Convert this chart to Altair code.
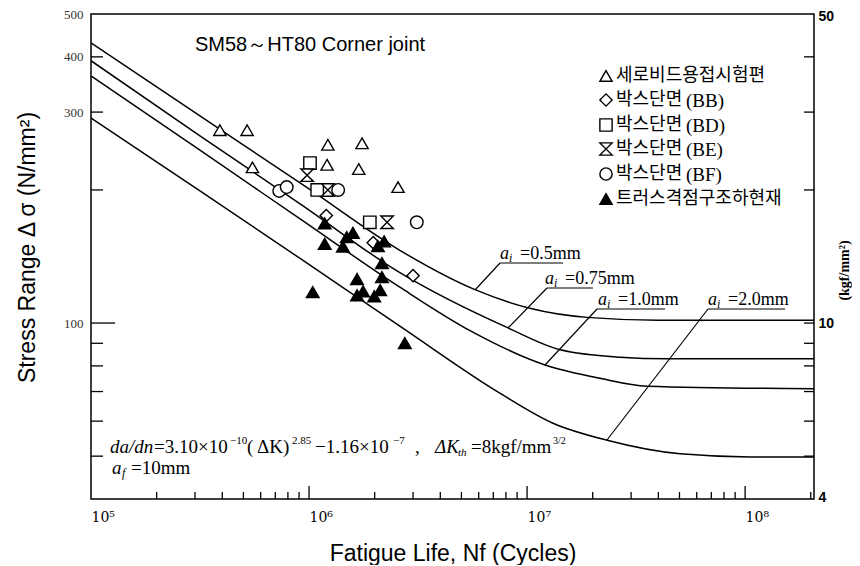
import altair as alt
import pandas as pd

W, H = 723, 485

# ---------------- S-N curves (fatigue life N [cycles], stress range S [N/mm^2]) -------------
curve_names = ["0.5mm", "0.75mm", "1.0mm", "2.0mm"]
curve_05_N = [1e5, 3.16e5, 1.0e6, 2.61e6, 5.77e6, 1.03e7, 1.88e7, 4.0e7, 2.1e8]
curve_05_S = [430, 294, 201, 146, 119, 108, 103, 101.5, 101.5]
curve_075_N = [1e5, 3.16e5, 9.1e5, 2.61e6, 8.18e6, 1.42e7, 2.67e7, 4.39e7, 2.1e8]
curve_075_S = [392, 265, 186, 130, 97.5, 87, 83.7, 83, 83]
curve_10_N = [1e5, 3.16e5, 9.1e5, 2.61e6, 5.5e6, 1.21e7, 2.16e7, 3.55e7, 2.1e8]
curve_10_S = [362, 246, 172, 120.5, 96, 80.4, 75, 72, 71]
curve_20_N = [1e5, 3.16e5, 9.1e5, 2.61e6, 7.5e6, 1.3e7, 2.33e7, 5.04e7, 1.05e8, 2.1e8]
curve_20_S = [291, 199, 140, 98.4, 69.4, 59.5, 54.3, 50.6, 49.8, 49.8]

# ---------------- test results ----------------
series = ["세로비드용접시험편", "박스단면(BB)", "박스단면(BD)", "박스단면(BE)",
          "박스단면(BF)", "트러스격점구조하현재"]
bead_N = [3.9e5, 5.2e5, 5.5e5, 1.22e6, 1.75e6, 1.21e6, 1.69e6, 2.56e6]
bead_S = [273, 273, 225, 253, 255, 228, 223, 203]
bb_N = [1.2e6, 1.97e6, 3.0e6]
bb_S = [175, 152, 128]
bd_N = [1.01e6, 1.09e6, 1.9e6]
bd_S = [230, 200, 169]
be_N = [9.8e5, 1.22e6, 2.28e6]
be_S = [216, 200, 169]
bf_N = [7.3e5, 7.9e5, 1.36e6, 3.12e6]
bf_S = [199, 203, 200, 169]
truss_N = [1.18e6, 1.18e6, 1.43e6, 1.49e6, 1.59e6, 2.07e6, 2.21e6, 2.16e6,
           1.66e6, 2.16e6, 1.04e6, 1.66e6, 1.77e6, 1.99e6, 2.12e6, 2.75e6]
truss_S = [168, 151, 149, 156.5, 160, 149.3, 153, 136.7,
           125.8, 127, 117.5, 115.6, 118, 115, 118.7, 90.1]

# ---------------- axis tick values ----------------
x_label_values = [1e5, 1e6, 1e7, 1e8]
x_minor_ticks = [2e5, 3e5, 4e5, 5e5, 6e5, 7e5, 8e5, 9e5,
                 2e6, 3e6, 4e6, 5e6, 6e6, 7e6, 8e6, 9e6,
                 2e7, 3e7, 4e7, 5e7, 6e7, 7e7, 8e7, 9e7, 2e8]
x_major_ticks = [1e6, 1e7, 1e8]
y_label_values = [500, 400, 300, 100]
y_minor_ticks = [400, 300, 200, 90, 80, 70, 60, 50]
y_major_ticks = [100]
kgf_label_values = [50, 10, 4]
kgf_ticks = [40, 30, 20, 10, 9, 8, 7, 6, 5]

# ---------------- marker styles ----------------
HOURGLASS = "M-1,-1H1L-1,1H1Z"
marker_shapes = ["triangle-up", "diamond", "square", HOURGLASS, "circle", "triangle-up"]
marker_fills = ["white", "white", "white", "white", "white", "black"]
marker_sizes = [150, 160, 170, 150, 300, 75]

# ---------------- tables ----------------
curve_df = pd.concat([
    pd.DataFrame({"curve": name, "N": n, "S": s})
    for name, n, s in zip(curve_names,
                          [curve_05_N, curve_075_N, curve_10_N, curve_20_N],
                          [curve_05_S, curve_075_S, curve_10_S, curve_20_S])
], ignore_index=True)

pt_df = pd.concat([
    pd.DataFrame({"type": name, "N": n, "S": s})
    for name, n, s in zip(series,
                          [bead_N, bb_N, bd_N, be_N, bf_N, truss_N],
                          [bead_S, bb_S, bd_S, be_S, bf_S, truss_S])
], ignore_index=True)

xscale = alt.Scale(type="log", domain=[1e5, 2.07e8], nice=False)
yscale = alt.Scale(type="log", domain=[40, 500], nice=False)
kscale = alt.Scale(type="log", domain=[4, 50], nice=False)

SERIF = "Liberation Serif"
SANS = "Liberation Sans"
KR = "Noto Sans CJK KR"

x_label_expr = ("datum.value == 100000 ? '10⁵' : datum.value == 1000000 ? '10⁶' : "
                "datum.value == 10000000 ? '10⁷' : '10⁸'")

curves = alt.Chart(curve_df).mark_line(
    color="black", strokeWidth=1.5, interpolate="monotone", clip=True
).encode(
    x=alt.X("N:Q", scale=xscale, axis=alt.Axis(
        values=x_label_values, labelExpr=x_label_expr, ticks=False, domain=False, grid=False,
        labelAlign="left", labelBaseline="top", labelPadding=11, labelFlush=False,
        labelOverlap=False, labelFont="DejaVu Serif", labelFontSize=14, labelColor="black",
        title="Fatigue  Life,  Nf  (Cycles)", titleFont=SANS, titleFontSize=23,
        titleFontWeight="normal", titleColor="black", titleY=61, titleBaseline="alphabetic")),
    y=alt.Y("S:Q", scale=yscale, axis=alt.Axis(
        values=y_label_values, ticks=False, domain=False, grid=False, labelOverlap=False,
        labelFont=SERIF, labelFontSize=13, labelColor="#333333", labelPadding=8,
        title="Stress  Range  Δ σ  (N/mm²)", titleFont=SANS, titleFontSize=23,
        titleFontWeight="normal", titleColor="black", titleAngle=270,
        titleX=-52, titleY=233, titleBaseline="bottom")),
    detail="curve:N",
)

points = alt.Chart(pt_df).mark_point(
    filled=True, stroke="black", strokeWidth=1.4, opacity=1
).encode(
    x=alt.X("N:Q", scale=xscale),
    y=alt.Y("S:Q", scale=yscale),
    shape=alt.Shape("type:N", scale=alt.Scale(domain=series, range=marker_shapes), legend=None),
    fill=alt.Fill("type:N", scale=alt.Scale(domain=series, range=marker_fills), legend=None),
    size=alt.Size("type:O", scale=alt.Scale(domain=series, range=marker_sizes), legend=None),
)

# inward ticks
def ytick_layer(vals, length):
    return alt.Chart(pd.DataFrame({"S": vals})).mark_rule(color="black", strokeWidth=1.3).encode(
        y=alt.Y("S:Q", scale=yscale), x=alt.value(0), x2=alt.value(length))

def xtick_layer(vals, length):
    return alt.Chart(pd.DataFrame({"N": vals})).mark_rule(color="black", strokeWidth=1.3).encode(
        x=alt.X("N:Q", scale=xscale), y=alt.value(H), y2=alt.value(H - length))

one = pd.DataFrame({"k": [0]})

def txt(s, x, y, size=15, font=SERIF, style="normal", weight="normal", baseline="alphabetic"):
    return alt.Chart(one).mark_text(
        text=s, font=font, fontSize=size, fontStyle=style, fontWeight=weight,
        align="left", baseline=baseline, color="black"
    ).encode(x=alt.value(x), y=alt.value(y))

def seg(x1, y1, x2, y2):
    return alt.Chart(one).mark_rule(color="black", strokeWidth=1.2).encode(
        x=alt.value(x1), y=alt.value(y1), x2=alt.value(x2), y2=alt.value(y2))

def curve_label(value_text, x, y):
    return [txt("a", x, y, size=18, style="italic"),
            txt("i", x + 9, y + 3, size=12, style="italic"),
            txt(value_text, x + 20, y, size=18)]

FS = 19
annotations = [
    txt("SM58～HT80  Corner  joint", 104, 37, size=20, font=SANS),
    # crack growth law
    txt("da/dn", 19, 439, size=FS, style="italic"),
    txt("=3.10×10", 63, 439, size=FS),
    txt("−10", 139, 430, size=11),
    txt("( ΔK)", 156, 439, size=FS),
    txt("2.85", 201, 430, size=11),
    txt("−1.16×10", 224, 439, size=FS),
    txt("−7", 302, 430, size=11),
    txt(",", 324, 439, size=FS),
    txt("ΔK", 344, 439, size=FS, style="italic"),
    txt("th", 367, 442, size=11, style="italic"),
    txt("=8kgf/mm", 380, 439, size=FS),
    txt("3/2", 462, 430, size=10),
    txt("a", 21, 460, size=FS, style="italic"),
    txt("f", 31, 463, size=12, style="italic"),
    txt("=10mm", 40, 460, size=FS),
    # curve leaders
    seg(384, 276, 409, 249), seg(409, 249, 472, 249),
    seg(417, 314, 456, 274), seg(456, 274, 502, 274),
    seg(454, 351, 506, 295), seg(506, 295, 574, 295),
    seg(516, 426, 617, 295), seg(617, 295, 694, 295),
]
annotations += curve_label("=0.5mm", 409, 245)
annotations += curve_label("=0.75mm", 454, 270)
annotations += curve_label("=1.0mm", 507, 291)
annotations += curve_label("=2.0mm", 617, 291)

# legend (drawn as marks so each row sits where the original has it)
legend_x, legend_text_x = 515, 525
legend_rows_y = [62, 86, 111, 135, 160, 185]
legend_layers = []
for name, shp, fl, yy in zip(series, marker_shapes, marker_fills, legend_rows_y):
    legend_layers.append(alt.Chart(one).mark_point(
        shape=shp, filled=True, fill=fl, stroke="black", strokeWidth=1.4, size=150, opacity=1
    ).encode(x=alt.value(legend_x), y=alt.value(yy)))
    if "(" in name:
        kr, rest = name.split("(", 1)
        legend_layers.append(txt(kr, legend_text_x, yy, size=18, font=KR, baseline="middle"))
        legend_layers.append(txt("(" + rest, legend_text_x + 70, yy + 1, size=19, font=SERIF,
                                 baseline="middle"))
    else:
        legend_layers.append(txt(name, legend_text_x, yy, size=18, font=KR, baseline="middle"))

main = alt.layer(
    curves, points,
    ytick_layer(y_minor_ticks, 12), ytick_layer(y_major_ticks, 24),
    xtick_layer(x_minor_ticks, 7), xtick_layer(x_major_ticks, 13),
    *annotations, *legend_layers,
)

right = alt.Chart(pd.DataFrame({"kgf": kgf_ticks})).mark_rule(color="black", strokeWidth=1.3).encode(
    y=alt.Y("kgf:Q", scale=kscale, axis=alt.Axis(
        orient="right", values=kgf_label_values, ticks=False, domain=False, grid=False,
        labelFont=SANS, labelFontWeight="bold", labelFontSize=14, labelColor="black",
        labelPadding=4, labelOverlap=False, labelFlush=True, labelFlushOffset=5,
        title="(kgf/mm²)", titleFont=SERIF, titleFontWeight="bold", titleFontSize=14,
        titleColor="black", titleAngle=270, titleX=30, titleY=256, titleBaseline="middle")),
    x=alt.value(W), x2=alt.value(W - 10),
)

chart = alt.layer(main, right).resolve_scale(y="independent").properties(
    width=W, height=H,
    padding={"left": 83, "top": 6, "right": 38, "bottom": 66},
    autosize=alt.AutoSizeParams(type="none"),
    background="white",
).configure_view(stroke="black", strokeWidth=1.5)

chart.save("out.html", embed_options={"renderer": "svg", "actions": False})
